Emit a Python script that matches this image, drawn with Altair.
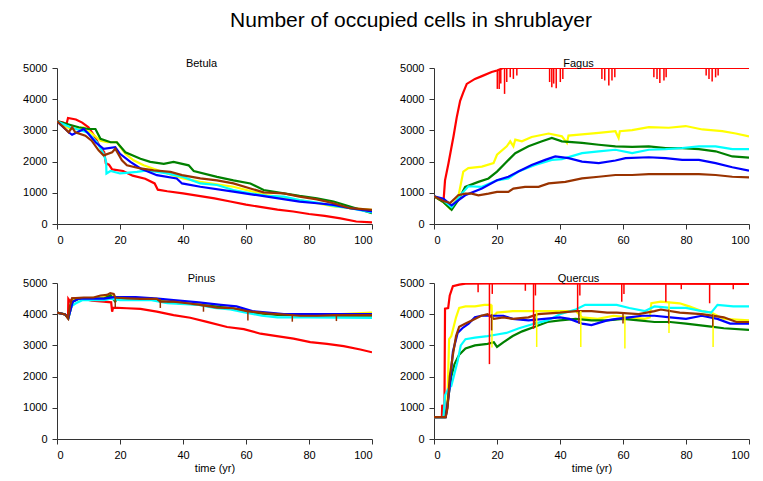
import altair as alt
import pandas as pd

SERIES = ["red", "yellow", "green", "cyan", "blue", "brown"]
COLORS = ["#FF0000", "#FFFF00", "#008000", "#00FFFF", "#0000FF", "#993300"]
X_TICKS = [0, 20, 40, 60, 80, 100]
Y_TICKS = [0, 1000, 2000, 3000, 4000, 5000]

# ---------------- Betula ----------------
betula_red = [(0, 3300), (2, 3250), (3, 3200), (3.5, 3400), (6, 3350), (8, 3250), (10, 3100), (12, 2800),
              (13.5, 2500), (15, 2300), (15.5, 1950), (16.5, 1900), (17.5, 1750), (21, 1700), (24, 1550),
              (28, 1450), (31, 1300), (32, 1100), (35, 1050), (40, 980), (45, 900), (50, 820), (55, 720),
              (60, 620), (65, 540), (70, 460), (75, 400), (80, 320), (85, 260), (90, 180), (95, 80), (100, 50)]
betula_yellow = [(0, 3290), (4.2, 3045), (8.5, 3100), (10.6, 2940), (13.8, 2670), (15.9, 2620), (19, 2620),
                 (21.7, 2250), (24.3, 2040), (27.5, 1880), (35, 1620), (40, 1460), (45.5, 1350), (56, 1195),
                 (66.7, 930), (77, 770), (87.8, 560), (100, 455)]
betula_green = [(0, 3290), (6.9, 3100), (10, 3045), (12.2, 3045), (13.8, 2730), (17, 2620), (19, 2620),
                (21.7, 2300), (26.5, 2090), (29.6, 1990), (33.9, 1930), (37, 1990), (41.8, 1880), (43.4, 1700),
                (50.8, 1510), (56, 1400), (61.4, 1300), (65.6, 1090), (72, 980), (77, 900), (82.5, 825),
                (87.8, 720), (93, 560), (100, 350)]
betula_cyan = [(0, 3290), (4.2, 3100), (9.5, 2940), (12.7, 2620), (14.8, 2250), (15.6, 1990), (15.7, 1620),
               (17, 1700), (20, 1620), (22, 1640), (25.4, 1670), (28.6, 1720), (35, 1620), (40, 1510),
               (45.5, 1300), (50.8, 1250), (56, 1090), (61.4, 985), (66.7, 900), (72, 877), (77, 770),
               (82.5, 690), (87.8, 580), (93, 507), (100, 370)]
betula_blue = [(0, 3290), (3.7, 2940), (4.8, 2860), (8.5, 3045), (10, 2890), (12.2, 2620), (14.8, 2410),
               (18.5, 2460), (20, 2250), (23.3, 1990), (26.5, 1780), (31.7, 1565), (38, 1460), (39.7, 1300),
               (45.5, 1195), (56, 1035), (66.7, 877), (77, 720), (82.5, 666), (87.8, 613), (93, 507), (100, 400)]
betula_brown = [(0, 3290), (2.1, 3100), (3.7, 2940), (4.8, 3100), (5.8, 2940), (9, 2830), (11, 2670),
                (13.2, 2360), (14.8, 2200), (17.5, 2300), (18.5, 2410), (20.6, 2040), (22.2, 1880), (26.5, 1780),
                (30.7, 1720), (36, 1670), (39.7, 1565), (45.5, 1460), (50.8, 1400), (56, 1300), (61.4, 1140),
                (65.6, 1015), (72, 980), (77, 877), (82.5, 790), (87.8, 666), (93, 507), (100, 455)]

# ---------------- Fagus ----------------
fagus_red = [(0, 890), (3, 700), (3.5, 1400), (4.6, 1950), (5.6, 2490), (6.2, 2810), (7.2, 3410), (8.3, 3950),
             (9.3, 4220), (10.4, 4490), (13, 4650), (15.2, 4740), (18.3, 4870), (20, 4920), (22, 5000), (100, 5000)]
fagus_yellow = [(0, 890), (3, 700), (5.1, 490), (7.7, 865), (9.3, 1680), (10.9, 1790), (15.2, 1840), (18.9, 1950),
                (20, 2220), (23.1, 2490), (24.2, 2650), (25.2, 2490), (25.8, 2705), (27.9, 2650), (31, 2790),
                (36.4, 2900), (40.6, 2810), (42.2, 2600), (42.7, 2835), (47, 2870), (52.3, 2920), (57.6, 2975),
                (58.6, 2760), (59, 2975), (62.9, 3010), (68.2, 3105), (74.5, 3085), (79.9, 3140), (85.2, 3030),
                (91.5, 2975), (95.8, 2900), (100, 2810)]
fagus_green = [(0, 890), (3, 700), (5.6, 455), (7.7, 760), (9.9, 1190), (14.1, 1350), (17.3, 1460), (20, 1680),
               (22.6, 1950), (25.8, 2270), (30, 2490), (34.3, 2650), (37.4, 2760), (40.6, 2650), (47, 2600),
               (52.3, 2540), (57.6, 2490), (62.9, 2470), (68.2, 2490), (73.5, 2435), (78.8, 2435), (84.1, 2400),
               (89.4, 2330), (94.7, 2165), (100, 2130)]
fagus_cyan = [(0, 890), (3, 760), (5.6, 540), (8.8, 975), (10.9, 1210), (15.2, 1190), (20, 1400), (23.6, 1460),
              (26.8, 1680), (32.1, 1890), (37.4, 2055), (40.6, 2080), (47, 2270), (52.3, 2330), (57.6, 2380),
              (62.9, 2270), (68.2, 2380), (73.5, 2400), (78.8, 2435), (84.1, 2490), (89.4, 2490), (94.7, 2400),
              (100, 2400)]
fagus_blue = [(0, 890), (3, 810), (5.6, 595), (7.7, 760), (9.9, 920), (15.2, 1135), (20, 1400), (23.6, 1515),
              (26.8, 1680), (31, 1890), (35.3, 2055), (38.5, 2165), (42.7, 2110), (47, 2000), (52.3, 1950),
              (57.6, 2035), (60.8, 2110), (68.2, 2140), (73.5, 2110), (78.8, 2055), (84.1, 2055), (89.4, 1950),
              (94.7, 1820), (100, 1710)]
fagus_brown = [(0, 890), (3, 735), (5.1, 670), (7.7, 920), (9.9, 975), (12, 975), (14.1, 920), (17.3, 975),
               (20, 1030), (23.6, 1030), (25.2, 1135), (28.9, 1190), (33.2, 1190), (36.4, 1300), (41.7, 1350),
               (47, 1460), (52.3, 1515), (57.6, 1570), (62.9, 1570), (68.2, 1600), (78.8, 1600), (84.1, 1600),
               (89.4, 1570), (94.7, 1515), (100, 1495)]
# spikes: (time, top, bottom)
fagus_red_spikes = [(20.1, 4920, 4330), (20.7, 4940, 4330), (21.2, 4960, 4500), (22.4, 5000, 4170),
                    (23.1, 5000, 4550), (24.2, 5000, 4700), (25.2, 5000, 4650), (26.3, 5000, 4760),
                    (36.7, 5000, 4550), (37.4, 5000, 4380), (38.0, 5000, 4500), (38.8, 5000, 4350),
                    (40.1, 5000, 4550), (40.9, 5000, 4650), (53.3, 5000, 4650), (54.2, 5000, 4600),
                    (55.5, 5000, 4440), (56.5, 5000, 4600), (57.4, 5000, 4700), (69.8, 5000, 4700),
                    (70.8, 5000, 4650), (71.7, 5000, 4520), (73.0, 5000, 4600), (73.7, 5000, 4700),
                    (86.4, 5000, 4760), (87.3, 5000, 4650), (88.3, 5000, 4570), (89.4, 5000, 4700),
                    (90.2, 5000, 4760)]

# ---------------- Pinus ----------------
pinus_red = [(0, 4050), (2.6, 3990), (3.5, 3885), (3.6, 4490), (4.2, 4400), (4.8, 4510), (8.5, 4490),
             (11.1, 4430), (14.8, 4400), (17.2, 4380), (17.5, 4080), (17.8, 4210), (22.2, 4190), (26.5, 4170),
             (31.7, 4080), (37, 3970), (42.3, 3885), (47.6, 3755), (54, 3590), (59.3, 3520), (64.6, 3375),
             (69.8, 3300), (75.1, 3215), (80.4, 3105), (85.7, 3050), (91, 2975), (96.3, 2870), (100, 2780)]
pinus_yellow = [(0, 4050), (2.6, 3990), (3.6, 3870), (5, 4450), (8, 4500), (15, 4550), (17, 4600), (20, 4500),
                (30, 4500), (35, 4400), (42, 4350), (52, 4250), (58, 4150), (63, 4050), (70, 4000), (90, 4000),
                (100, 4050)]
pinus_green = [(0, 4050), (2.6, 3990), (3.6, 3870), (5, 4400), (7, 4500), (15, 4500), (17, 4600), (18.5, 4400),
               (19, 4500), (30, 4500), (33, 4400), (40, 4350), (50, 4250), (58, 4150), (62, 4050), (70, 3980),
               (80, 3950), (100, 3950)]
pinus_cyan = [(0, 4050), (2.6, 3990), (3.6, 3880), (4.5, 4250), (6, 4350), (8, 4450), (15, 4450), (17, 4500),
              (20, 4450), (30, 4450), (35, 4350), (45, 4300), (50, 4200), (55, 4150), (60, 4050), (65, 3950),
              (70, 3900), (80, 3900), (100, 3880)]
pinus_blue = [(0, 4050), (2.6, 3990), (3.6, 3870), (5, 4400), (7, 4500), (15, 4500), (18, 4550), (25, 4550),
              (32, 4500), (37, 4450), (45, 4380), (52, 4300), (57, 4250), (62, 4100), (67, 4050), (72, 4000),
              (85, 4000), (100, 4000)]
pinus_brown = [(0, 4050), (2.6, 3990), (3.5, 3865), (4.2, 4300), (4.8, 4510), (8.5, 4535), (11.6, 4535),
               (13.8, 4600), (15.9, 4620), (16.9, 4675), (18, 4650), (18.5, 4535), (22.2, 4510), (26.5, 4490),
               (31.7, 4490), (32.8, 4400), (37, 4400), (41.3, 4350), (45.5, 4300), (50.8, 4210), (56, 4190),
               (60.3, 4100), (66.7, 4025), (72, 3990), (77.2, 3950), (82.5, 3950), (87.8, 3970), (100, 3970)]
pinus_brown_spikes = [(18.5, 4550, 4210), (32.8, 4490, 4200), (46.5, 4300, 4080), (60.6, 4100, 3800),
                      (74.7, 3990, 3760), (88.7, 3970, 3780)]

# ---------------- Quercus ----------------
quercus_red = [(0, 700), (2.5, 700), (2.6, 1100), (2.8, 700), (3.3, 700), (3.5, 4180), (4.5, 4200), (5, 4600),
               (6, 4900), (8, 4950), (10, 4980), (20, 4990), (100, 4970)]
quercus_yellow = [(0, 700), (3.5, 700), (4.2, 1000), (4.8, 3200), (5.5, 3300), (6, 3500), (7, 3900), (8, 4200),
                  (10, 4250), (13, 4250), (16, 4300), (18, 4300), (18.5, 3900), (20, 4050), (25, 4100), (45, 4100),
                  (47, 3900), (52, 3850), (57, 3950), (62, 3900), (67, 3850), (68.5, 3900), (69, 4350), (72, 4400),
                  (78, 4350), (81, 4250), (85, 4100), (88, 4050), (92, 3850), (100, 3800)]
quercus_green = [(0, 700), (3.7, 700), (4.5, 1300), (5.5, 2000), (6.5, 2400), (8, 2700), (10, 2900), (13, 3000),
                 (17, 3050), (19, 3100), (20, 2950), (22, 3100), (25, 3300), (28, 3450), (32, 3600), (36, 3750),
                 (40, 3800), (45, 3850), (50, 3800), (55, 3800), (60, 3850), (65, 3800), (70, 3750), (75, 3750),
                 (80, 3700), (88, 3600), (92, 3550), (100, 3500)]
quercus_cyan = [(0, 700), (3, 700), (3.5, 1400), (4.5, 1600), (5.5, 1700), (6.5, 2100), (7.5, 2500), (8.5, 3000),
                (10, 3200), (13, 3250), (17, 3300), (20, 3350), (23, 3400), (27, 3550), (32, 3700), (36, 3800),
                (40, 4000), (45, 4150), (48, 4300), (55, 4300), (58, 4300), (62, 4200), (67, 4100), (70, 4250),
                (75, 4200), (80, 4200), (85, 4100), (88, 4050), (90, 4300), (95, 4250), (100, 4250)]
quercus_blue = [(0, 700), (3.7, 700), (4.2, 1000), (5, 1700), (6, 2800), (7.5, 3400), (9, 3550), (11, 3700),
                (13, 3900), (15, 3950), (22, 3950), (25, 3850), (30, 3800), (35, 3850), (40, 3900), (43, 3850),
                (47, 3700), (50, 3650), (55, 3800), (58, 3850), (62, 3900), (66, 3950), (70, 3950), (75, 3900),
                (80, 3850), (85, 3950), (90, 3850), (94, 3700), (100, 3700)]
quercus_brown = [(0, 700), (3.7, 700), (4.3, 1000), (5, 2000), (6, 2700), (7, 3300), (8, 3600), (10, 3700),
                 (12, 3800), (15, 3950), (17, 4000), (19, 3850), (22, 3900), (25, 3850), (30, 3900), (33, 4000),
                 (40, 4050), (45, 4100), (50, 4100), (55, 4050), (58, 4050), (65, 4000), (70, 4100), (72, 4150),
                 (78, 4050), (85, 4000), (92, 3900), (96, 3750), (100, 3750)]
quercus_red_spikes = [(14, 4980, 4700), (17.6, 4990, 2400), (18.5, 4990, 4650), (29, 4990, 4750),
                      (31.6, 4990, 3530), (32.2, 4990, 4600), (45.6, 4990, 4100), (46.3, 4990, 4600),
                      (59.6, 4990, 4400), (60.3, 4990, 4650), (73.6, 4990, 4400), (78.5, 4990, 4800),
                      (87.5, 4990, 4350), (95, 4990, 4800)]
quercus_yellow_spikes = [(18.4, 4300, 2930), (32.6, 4100, 2950), (46.6, 4100, 2950), (60.6, 3950, 2900),
                         (74.6, 4400, 3400), (88.6, 4050, 2950)]
quercus_brown_spikes = [(18.3, 4000, 3480), (32, 4000, 3650), (46, 4100, 3700), (60, 4050, 3700),
                        (74.5, 4150, 3700), (88.5, 4000, 3600)]

PANELS = [
    ("Betula", [betula_red, betula_yellow, betula_green, betula_cyan, betula_blue, betula_brown], []),
    ("Fagus", [fagus_red, fagus_yellow, fagus_green, fagus_cyan, fagus_blue, fagus_brown],
     [("red", fagus_red_spikes)]),
    ("Pinus", [pinus_red, pinus_yellow, pinus_green, pinus_cyan, pinus_blue, pinus_brown],
     [("brown", pinus_brown_spikes)]),
    ("Quercus", [quercus_red, quercus_yellow, quercus_green, quercus_cyan, quercus_blue, quercus_brown],
     [("red", quercus_red_spikes), ("yellow", quercus_yellow_spikes), ("brown", quercus_brown_spikes)]),
]

FONT = "Liberation Sans"
W, H = 315, 156
color_scale = alt.Scale(domain=SERIES, range=COLORS)


def panel(name, series_list, spikes, bottom):
    rows = []
    for i, (s, pts) in enumerate(zip(SERIES, series_list)):
        for j, (t, v) in enumerate(pts):
            rows.append({"series": s, "k": i, "idx": j, "t": t, "v": v})
    df = pd.DataFrame(rows)
    srows = []
    for s, lst in spikes:
        for (t, top, bot) in lst:
            srows.append({"series": s, "t": t, "v": top, "bot": bot})

    xaxis = alt.Axis(values=X_TICKS, title="time (yr)" if bottom else None, grid=False, format="d",
                     labelFontSize=11, titleFontSize=11, titlePadding=2, titleFontWeight="normal",
                     labelOverlap=False)
    yaxis = alt.Axis(values=Y_TICKS, title=None, grid=False, labelFontSize=11, format="d",
                     labelOverlap=False)
    xs = alt.Scale(domain=[0, 100], nice=False)
    ys = alt.Scale(domain=[0, 5000], nice=False)
    x = alt.X("t:Q", scale=xs, axis=xaxis)
    y = alt.Y("v:Q", scale=ys, axis=yaxis)

    lines = alt.Chart(df).mark_line(strokeWidth=2.2, clip=True).encode(
        x=x, y=y,
        color=alt.Color("series:N", scale=color_scale, legend=None),
        order="idx:Q",
        detail="k:Q",
    )
    layers = [lines]
    if srows:
        sdf = pd.DataFrame(srows)
        rules = alt.Chart(sdf).mark_rule(strokeWidth=1.5).encode(
            x=alt.X("t:Q", scale=xs, axis=xaxis),
            y=alt.Y("v:Q", scale=ys, axis=yaxis),
            y2="bot:Q",
            color=alt.Color("series:N", scale=color_scale, legend=None),
        )
        layers.append(rules)
    label = alt.Chart(pd.DataFrame({"name": [name]})).mark_text(
        font=FONT, fontSize=11, color="black", baseline="middle", align="center"
    ).encode(text="name:N", x=alt.value(W / 2 - 13), y=alt.value(-4))
    layers.append(label)
    return alt.layer(*layers).properties(width=W, height=H)


p = [panel(n, s, sp, i >= 2) for i, (n, s, sp) in enumerate(PANELS)]
top = alt.hconcat(p[0], p[1], spacing=26)
bot = alt.hconcat(p[2], p[3], spacing=26)
chart = alt.vconcat(top, bot, spacing=28).properties(
    title=alt.TitleParams("Number of occupied cells in shrublayer", fontSize=21, fontWeight="normal",
                          font=FONT, anchor="middle", color="black", offset=27, dx=25),
    padding={"left": 14, "top": 2, "right": 5, "bottom": 5},
).configure_view(stroke=None).configure_axis(
    labelFont=FONT, titleFont=FONT, labelColor="black", titleColor="black",
    domainColor="#333333", tickColor="#333333", tickSize=5, labelPadding=5,
).configure_concat(spacing=26)

chart.save("out.html", embed_options={"renderer": "svg", "actions": False})
